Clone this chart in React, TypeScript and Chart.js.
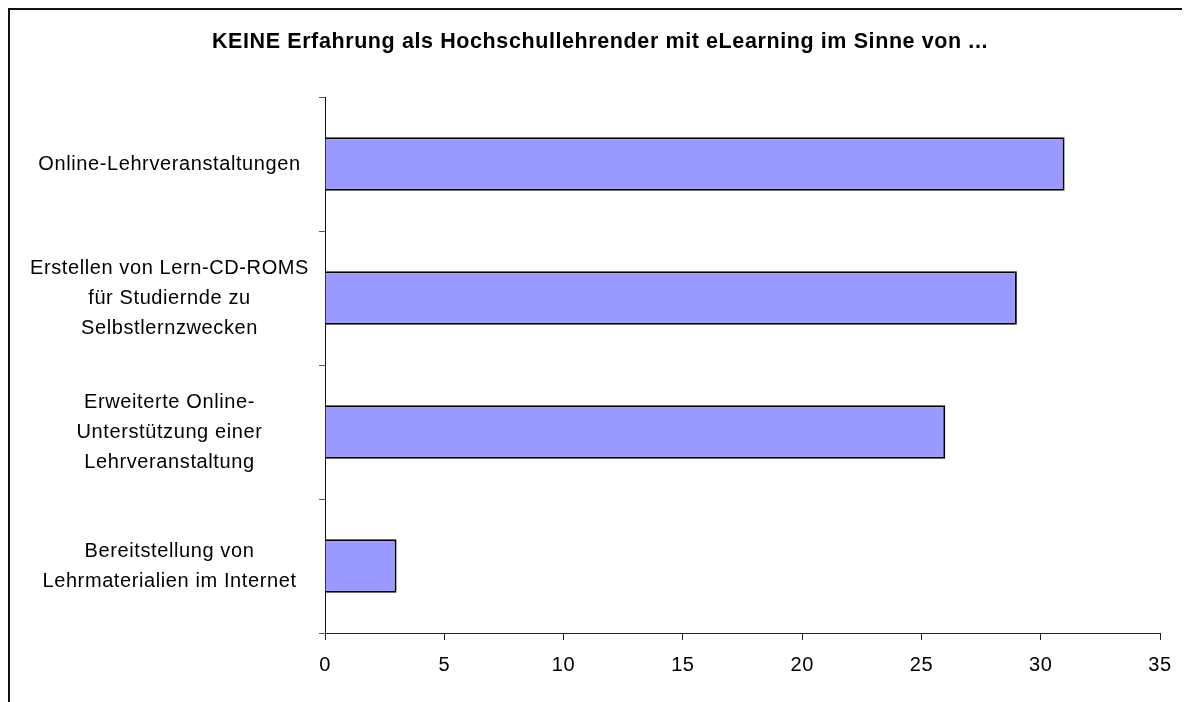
import React, { useEffect, useRef } from 'react';
import { Chart, registerables } from 'chart.js';

Chart.register(...registerables);

const chartTitle = 'KEINE Erfahrung als Hochschullehrender mit eLearning im Sinne von ...';
const categories: string[][] = [
  ['Online-Lehrveranstaltungen'],
  ['Erstellen von Lern-CD-ROMS', 'für Studiernde zu', 'Selbstlernzwecken'],
  ['Erweiterte Online-', 'Unterstützung einer', 'Lehrveranstaltung'],
  ['Bereitstellung von', 'Lehrmaterialien im Internet'],
];
const values: number[] = [31, 29, 26, 3];
const xMin = 0;
const xMax = 35;
const xStep = 5;

const FONT = "'Liberation Sans', Arial, sans-serif";

const framePlugin = {
  id: 'frame',
  beforeUpdate(chart: any) {
    (chart.ctx as any).letterSpacing = '0.6px';
  },
  beforeDraw(chart: any) {
    const ctx = chart.ctx;
    (ctx as any).letterSpacing = '0.6px';
    ctx.save();
    ctx.fillStyle = '#ffffff';
    ctx.fillRect(0, 0, chart.width, chart.height);
    ctx.strokeStyle = '#111111';
    ctx.lineWidth = 2;
    ctx.beginPath();
    ctx.moveTo(1, chart.height);
    ctx.lineTo(1, 1);
    ctx.lineTo(chart.width, 1);
    ctx.stroke();
    ctx.restore();
  },
  afterDraw(chart: any) {
    const ctx = chart.ctx;
    ctx.save();
    (ctx as any).letterSpacing = '0.6px';
    ctx.fillStyle = '#000000';
    ctx.font = `bold 21.5px ${FONT}`;
    ctx.textAlign = 'center';
    ctx.textBaseline = 'middle';
    ctx.fillText(chartTitle, chart.width / 2 + 1, 34);
    ctx.restore();
  },
};

export default function App() {
  const ref = useRef<HTMLCanvasElement | null>(null);

  useEffect(() => {
    document.documentElement.style.overflow = 'hidden';
    document.body.style.overflow = 'hidden';
    if (!ref.current) return;
    const chart = new Chart(ref.current, {
      type: 'bar',
      data: {
        labels: categories,
        datasets: [
          {
            data: values,
            backgroundColor: '#9999FF',
            borderColor: '#000000',
            borderWidth: 2,
            barPercentage: 0.4,
            categoryPercentage: 1,
          },
        ],
      },
      options: {
        indexAxis: 'y',
        responsive: false,
        animation: false,
        layout: { padding: { left: 0, right: 30, top: 89, bottom: 0 } },
        plugins: {
          legend: { display: false },
          tooltip: { enabled: false },
          title: { display: false },
        },
        scales: {
          x: {
            type: 'linear',
            min: xMin,
            max: xMax,
            ticks: {
              stepSize: xStep,
              color: '#000000',
              font: { family: FONT, size: 20 },
              padding: 13,
            },
            grid: { drawOnChartArea: false, drawTicks: true, tickLength: 7, color: '#222222' },
            border: { color: '#222222', width: 1 },
            afterFit(scale: any) {
              scale.height = 69;
            },
          },
          y: {
            type: 'category',
            ticks: {
              color: '#000000',
              font: { family: FONT, size: 20, lineHeight: 1.5 },
              crossAlign: 'center',
              padding: 10,
              autoSkip: false,
            },
            grid: { drawOnChartArea: false, drawTicks: true, tickLength: 6, color: '#555555', offset: true },
            border: { color: '#111111', width: 1 },
            afterFit(scale: any) {
              scale.width = 317;
            },
          },
        },
      },
      plugins: [framePlugin],
    } as any);
    return () => chart.destroy();
  }, []);

  return (
    <canvas
      ref={ref}
      width={1182}
      height={694}
      style={{ display: 'block', width: 1182, height: 694 }}
    />
  );
}
